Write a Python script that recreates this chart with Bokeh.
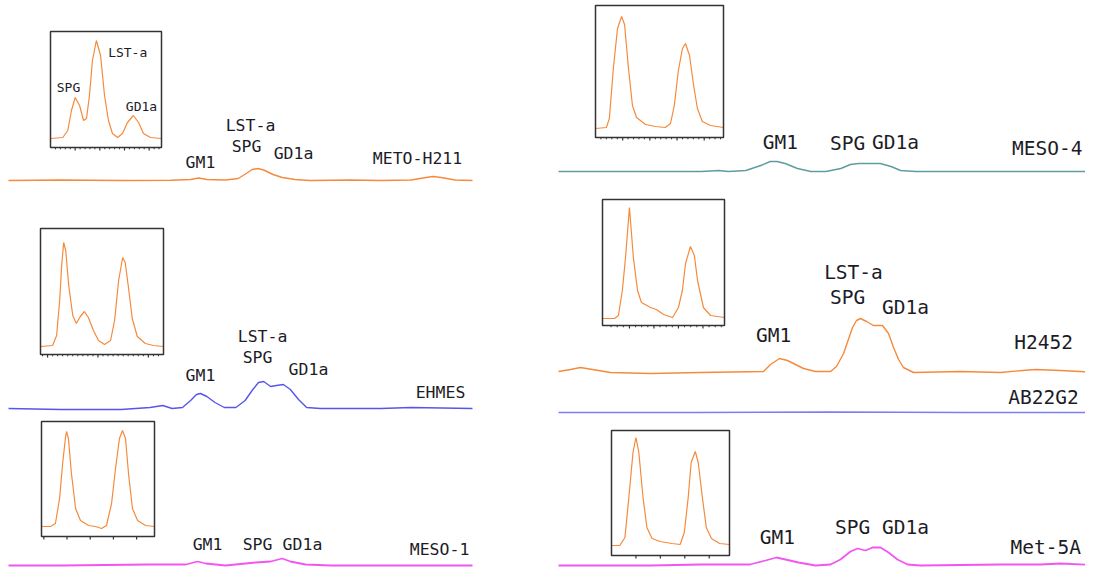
from bokeh.plotting import figure
from bokeh.models import Range1d
from bokeh.core.properties import value
from bokeh.embed import file_html
from bokeh.resources import INLINE

# ---------------- data (retention time in min, signal in mV) ----------------
# METO-H211 main trace
meto_t = [0, 4.5, 9.7, 14.0, 15.7, 16.4, 17.1, 18.7, 19.8, 20.5, 21.0, 21.5, 22.0, 22.8,
          23.6, 24.7, 26.0, 29.5, 32.1, 34.7, 36.0, 36.6, 37.3, 38.5, 40.0]
meto_s = [0, 0.5, 0, 0.3, 1, 2.5, 1, 0.5, 2, 7, 11, 12, 10.5, 6, 3, 1, 0, 0.5, 0, 0.5, 3, 4, 3, 0.5, 0]
# METO-H211 inset
meto_in_t = [0, 0.5, 0.7, 0.85, 1.0, 1.18, 1.34, 1.46, 1.58, 1.7, 1.86, 2.03, 2.19, 2.35, 2.51,
             2.72, 2.92, 3.12, 3.36, 3.57, 3.77, 4.05, 4.5]
meto_in_s = [0, 1, 8, 28, 41, 33, 18, 20, 43, 78, 98, 83, 43, 18, 5, 1, 5, 16, 23, 16, 5, 1, 0]

# EHMES main trace
ehmes_t = [0, 4.5, 9.7, 12.2, 13.3, 14.1, 15.0, 15.7, 16.2, 16.55, 17.1, 17.8, 18.6, 19.6, 20.4,
           21.0, 21.55, 22.0, 22.6, 23.1, 23.7, 24.3, 25.0, 25.7, 26.9, 32.1, 34.7, 40.0]
ehmes_s = [0, -1, -1, 1, 3, 0, 1, 8, 14, 15, 12, 6, 1, 1, 8, 18, 26, 27, 22, 23, 24, 19, 9, 1, 0, 0, 1, 0]
# EHMES inset
ehmes_in_t = [-0.14, 0.10, 0.18, 0.24, 0.28, 0.32, 0.36, 0.42, 0.50, 0.57, 0.65, 0.73, 0.81, 0.91,
              1.01, 1.13, 1.25, 1.33, 1.41, 1.49, 1.54, 1.60, 1.68, 1.78, 1.94, 2.10, 2.30]
ehmes_in_s = [0, 1, 11, 46, 81, 104, 96, 61, 31, 23, 30, 35, 29, 16, 6, 2, 6, 26, 66, 89, 84, 61,
              28, 10, 3, 1, 0]

# MESO-1 main trace
meso1_t = [0, 4.5, 12.2, 15.3, 16.3, 17.0, 18.7, 21.3, 22.6, 23.6, 24.3, 25.6, 27.8, 33.8, 40.0]
meso1_s = [0, 0, 1, 1, 4, 2, 0, 3, 4, 7, 4, 1, 0, 0, 0]
# MESO-1 inset
meso1_in_t = [-0.1, 0.29, 0.50, 0.68, 0.81, 0.94, 0.98, 1.06, 1.19, 1.37, 1.58, 1.93, 2.23, 2.49,
              2.70, 2.92, 3.09, 3.26, 3.39, 3.52, 3.65, 3.82, 4.04, 4.38, 4.77]
meso1_in_s = [0, 0, 3, 28, 63, 90, 95, 88, 53, 18, 6, 1, 0, -2, 1, 23, 58, 88, 96, 88, 53, 18, 6, 1, 0]

# MESO-4 main trace
meso4_t = [0, 4.6, 10.5, 11.8, 12.5, 13.8, 14.9, 15.6, 16.1, 16.7, 17.6, 18.6, 19.7, 20.8, 21.5,
           22.1, 23.0, 23.7, 24.5, 25.2, 26.3, 32.6, 40.0]
meso4_s = [0, 0, 0, 1, 0, 1, 6, 10, 10, 8, 3, 0, 0, 3, 7, 8, 8, 8, 5, 1, 0, 0, 0]
# MESO-4 inset
meso4_in_t = [0, 0.40, 0.51, 0.66, 0.81, 0.96, 1.07, 1.21, 1.36, 1.51, 1.84, 2.21, 2.57, 2.76,
              2.90, 3.05, 3.20, 3.31, 3.46, 3.60, 3.75, 3.93, 4.23, 4.71]
meso4_in_s = [0, 1, 10, 61, 100, 112, 104, 61, 23, 11, 4, 2, 1, 5, 23, 58, 80, 85, 73, 45, 20, 7, 3, 1]

# H2452 main trace
h2452_t = [0, 0.88, 1.62, 2.5, 3.83, 6.78, 10.46, 15.1, 15.62, 16.28, 16.87, 17.46, 18.05, 18.93,
           20.04, 20.48, 21.0, 21.66, 21.95, 22.25, 22.69, 23.2, 23.87, 24.31, 24.68, 25.05,
           25.41, 26.15, 29.61, 32.56, 34.18, 35.14, 36.98, 40.0]
h2452_s = [1, 3, 5, 3, 0, -1, 0, 1, 8, 14, 12, 8, 4, 1, 1, 6, 19, 45, 52, 54, 51, 47, 47, 39, 25,
           13, 5, 0, 1, 0, 2, 3, 2, 0]
# AB22G2 main trace
ab22_t = [0, 10, 20, 30, 40]
ab22_s = [0, 0, 0.5, 0, 0]
# H2452 inset
h2452_in_t = [-0.1, 0.39, 0.55, 0.71, 0.84, 1.0, 1.16, 1.33, 1.49, 1.86, 2.10, 2.39, 2.76, 3.0,
              3.16, 3.29, 3.49, 3.65, 3.78, 4.02, 4.31, 4.88]
h2452_in_s = [0, 0, 3, 28, 61, 111, 61, 28, 16, 11, 9, 4, 1, 11, 28, 55, 72, 63, 38, 11, 3, 1]

# Met-5A main trace
met5a_t = [0, 6.8, 10.5, 14.1, 15.25, 16.06, 16.72, 17.68, 18.93, 20.04, 20.77, 21.51, 22.03,
           22.62, 23.13, 23.72, 24.31, 24.97, 25.71, 26.67, 32.56, 35.51, 36.98, 40.0]
met5a_s = [0, 0, 1, 1, 5, 8, 6, 3, 0, 1, 6, 14, 17, 15, 18, 18, 13, 6, 1, 0, 1, 1, 2, 0]
# Met-5A inset
met5a_in_t = [0, 0.34, 0.55, 0.71, 0.88, 1.0, 1.12, 1.29, 1.45, 1.66, 1.99, 2.48, 2.81, 2.98,
              3.14, 3.26, 3.43, 3.55, 3.72, 3.88, 4.09, 4.42, 4.83]
met5a_in_s = [0, 0, 8, 48, 93, 108, 93, 48, 18, 7, 4, 2, 1, 13, 48, 83, 94, 83, 48, 18, 7, 2, 1]

# peak / sample labels: (text, time, signal)
meto_labels = [("GM1", 16.55, 18), ("LST-a", 20.86, 55), ("SPG", 20.52, 34), ("GD1a", 24.57, 27),
               ("METO-H211", 35.26, 22)]
meto_in_labels = [("SPG", 0.73, 51), ("LST-a", 3.13, 86), ("GD1a", 3.69, 32)]
ehmes_labels = [("GM1", 16.55, 33), ("LST-a", 21.9, 72), ("SPG", 21.47, 51), ("GD1a", 25.86, 39),
                ("EHMES", 37.24, 16)]
meso1_labels = [("GM1", 17.16, 21), ("SPG", 21.47, 21), ("GD1a", 25.34, 21), ("MESO-1", 37.16, 16)]
meso4_labels = [("GM1", 16.35, 29), ("SPG", 21.29, 28), ("GD1a", 24.82, 29), ("MESO-4", 36.0, 23)]
h2452_labels = [("GM1", 15.84, 37), ("LST-a", 21.73, 100), ("SPG", 21.29, 75), ("GD1a", 25.56, 65),
                ("H2452", 35.73, 30)]
ab22_labels = [("AB22G2", 35.73, 15)]
met5a_labels = [("GM1", 16.13, 28), ("SPG", 21.66, 38), ("GD1a", 25.56, 38), ("Met-5A", 35.9, 18)]

# inset tick marks (inset time units)
meto_in_major = [1, 2, 3, 4]
meto_in_minor = [0.2, 0.4, 0.6, 0.8, 1.2, 1.4, 1.6, 1.8, 2.2, 2.4, 2.6, 2.8, 3.2, 3.4, 3.6, 3.8, 4.2, 4.4]
ehmes_in_major = [0, 1, 2]
ehmes_in_minor = [-0.1, 0.1, 0.2, 0.3, 0.4, 0.5, 0.6, 0.7, 0.8, 0.9, 1.1, 1.2, 1.3, 1.4, 1.5, 1.6,
                  1.7, 1.8, 1.9, 2.1, 2.2]
meso1_in_major = [0, 1, 2, 3, 4]
meso1_in_minor = []
meso4_in_major = [1, 2, 3, 4]
meso4_in_minor = [0.2, 0.4, 0.6, 0.8, 1.2, 1.4, 1.6, 1.8, 2.2, 2.4, 2.6, 2.8, 3.2, 3.4, 3.6, 3.8, 4.2, 4.4, 4.6]
h2452_in_major = [1, 2, 3, 4]
h2452_in_minor = [0.25, 0.5, 0.75, 1.25, 1.5, 1.75, 2.25, 2.5, 2.75, 3.25, 3.5, 3.75, 4.25, 4.5, 4.75]
met5a_in_major = [1, 2, 3, 4]
met5a_in_minor = []

# ---------------- styling ----------------
ORANGE = "#f58a3d"
BLUE = "#5656ee"
LIGHTBLUE = "#7c7cf6"
MAGENTA = "#f255f2"
TEAL = "#5f9c9c"
TEXT = "#1c1c28"
BOX = "#333333"
FONT = value("DejaVu Sans Mono")

p = figure(width=1085, height=568, output_backend="svg", toolbar_location=None,
           x_range=Range1d(0, 1085), y_range=Range1d(568, 0),
           x_axis_type=None, y_axis_type=None, min_border=0)
p.outline_line_color = None
p.grid.visible = False
p.background_fill_color = "white"


def coords(xsrc, xtgt, ysrc, ytgt):
    return p.subplot(x_source=Range1d(*xsrc), y_source=Range1d(*ysrc),
                     x_target=Range1d(*xtgt), y_target=Range1d(*ytgt))


def labels(sp, items, size):
    sp.text(x=[i[1] for i in items], y=[i[2] for i in items], text=[i[0] for i in items],
            text_align="center", text_baseline="middle", text_font=FONT,
            text_font_size=size, text_color=TEXT)


def main_trace(xt, base, t, s, color, lab, size, width=1.4):
    sp = coords((0, 40), xt, (0, 100), (base, base - 100))
    sp.line(t, s, line_color=color, line_width=width)
    labels(sp, lab, size)


def inset(xt, yt, tsrc, ssrc, t, s, major, minor, lab=None):
    sp = coords(tsrc, xt, ssrc, yt)
    sp.line(t, s, line_color=ORANGE, line_width=1.2)
    sp.quad(left=tsrc[0], right=tsrc[1], bottom=ssrc[0], top=ssrc[1],
            fill_color=None, line_color=BOX, line_width=1.5)
    if major:
        sp.segment(x0=major, y0=[ssrc[0]] * len(major), x1=major, y1=[ssrc[0] - 3] * len(major),
                   line_color=BOX, line_width=1.2)
    if minor:
        sp.segment(x0=minor, y0=[ssrc[0]] * len(minor), x1=minor, y1=[ssrc[0] - 1.8] * len(minor),
                   line_color=BOX, line_width=1)
    if lab:
        labels(sp, lab, "13px")


LEFT = (8, 472)
RIGHT = (558, 1101)
LSIZE = "16.5px"
RSIZE = "19.5px"

# left column
main_trace(LEFT, 180, meto_t, meto_s, ORANGE, meto_labels, LSIZE)
inset((50, 161), (147, 31), (0, 4.5), (-9, 107), meto_in_t, meto_in_s, meto_in_major, meto_in_minor,
      meto_in_labels)
main_trace(LEFT, 408, ehmes_t, ehmes_s, BLUE, ehmes_labels, LSIZE)
inset((40, 163), (354, 228), (-0.14, 2.30), (-8, 118), ehmes_in_t, ehmes_in_s, ehmes_in_major,
      ehmes_in_minor)
main_trace(LEFT, 565, meso1_t, meso1_s, MAGENTA, meso1_labels, LSIZE, 1.8)
inset((41, 154), (536, 421), (-0.1, 4.77), (-10, 105), meso1_in_t, meso1_in_s, meso1_in_major,
      meso1_in_minor)

# right column
main_trace(RIGHT, 171, meso4_t, meso4_s, TEAL, meso4_labels, RSIZE)
inset((595, 723), (137, 5), (0, 4.71), (-9, 123), meso4_in_t, meso4_in_s, meso4_in_major,
      meso4_in_minor)
main_trace(RIGHT, 372, h2452_t, h2452_s, ORANGE, h2452_labels, RSIZE)
main_trace(RIGHT, 412, ab22_t, ab22_s, LIGHTBLUE, ab22_labels, RSIZE)
inset((602, 724), (325, 199), (-0.1, 4.88), (-7, 119), h2452_in_t, h2452_in_s, h2452_in_major,
      h2452_in_minor)
main_trace(RIGHT, 565, met5a_t, met5a_s, MAGENTA, met5a_labels, RSIZE, 1.8)
inset((611, 729), (555, 430), (0, 4.83), (-10, 115), met5a_in_t, met5a_in_s, met5a_in_major,
      met5a_in_minor)

open("out.html", "w").write(file_html(p, INLINE))
